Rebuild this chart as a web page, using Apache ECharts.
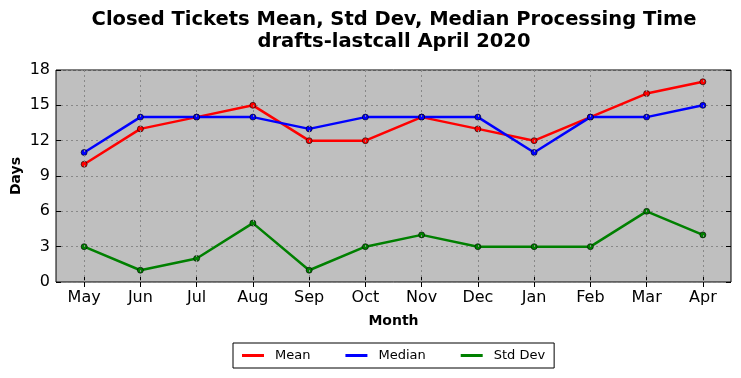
<!DOCTYPE html>
<html><head><meta charset="utf-8">
<script src="https://cdn.jsdelivr.net/npm/echarts@6/dist/echarts.min.js"></script>
<style>html,body{margin:0;padding:0;background:#fff}#c{width:741px;height:378px}</style>
</head><body><div id="c"></div>
<script>
const months = ['May','Jun','Jul','Aug','Sep','Oct','Nov','Dec','Jan','Feb','Mar','Apr'];
const meanVals = [10,13,14,15,12,12,14,13,12,14,16,17];
const medianVals = [11,14,14,14,13,14,14,14,11,14,14,15];
const stdVals = [3,1,2,5,1,3,4,3,3,3,6,4];
const yTicks = [0,3,6,9,12,15,18];

const font = 'DejaVu Sans';
const chart = echarts.init(document.getElementById('c'), null, {renderer:'canvas'});
function ser(name, data, color){
  return {name, type:'line', data, xAxisIndex:0, yAxisIndex:0,
    symbol:'circle', symbolSize:6,
    lineStyle:{color, width:2.5},
    itemStyle:{color, borderColor:'#000', borderWidth:0.6},
    emphasis:{disabled:true}, animation:false, z:3};
}
const gridSeries = {type:'line', data:[], silent:true, xAxisIndex:0, yAxisIndex:0, z:1,
  markLine:{silent:true, symbol:['none','none'], label:{show:false}, animation:false,
    lineStyle:{color:'#888', type:[2,3], width:1},
    data: months.map(m => ({xAxis:m}))}};
chart.setOption({
  backgroundColor:'#fff',
  animation:false,
  title:{text:'Closed Tickets Mean, Std Dev, Median Processing Time\ndrafts-lastcall April 2020',
    left:389, textAlign:'center', top:4,
    textStyle:{fontFamily:font, fontSize:19.5, fontWeight:'bold', color:'#000', lineHeight:22}},
  grid:{left:56, right:10, top:70, bottom:96, backgroundColor:'#bfbfbf', show:true, borderColor:'#000', borderWidth:1, outerBoundsMode:'none', containLabel:false},
  legend:{left:233, top:343, orient:'horizontal', itemGap:35, itemWidth:22, itemHeight:3,
    padding:[6,9,6,9], borderColor:'#000', borderWidth:1, borderRadius:0,
    textStyle:{fontFamily:font, fontSize:13, color:'#000', padding:[0,0,0,6]},
    data:[{name:'Mean', icon:'rect', itemStyle:{color:'#ff0000', borderWidth:0}},
          {name:'Median', icon:'rect', itemStyle:{color:'#0000ff', borderWidth:0}},
          {name:'Std Dev', icon:'rect', itemStyle:{color:'#008000', borderWidth:0}}]},
  xAxis:[{type:'category', data:months, boundaryGap:true, position:'bottom',
    name:'Month', nameLocation:'middle', nameGap:32, nameMoveOverlap:false,
    nameTextStyle:{fontFamily:font, fontSize:14, fontWeight:'bold', color:'#000'},
    axisLine:{show:false}, axisTick:{show:true, inside:true, alignWithLabel:true, length:5, lineStyle:{color:'#000'}},
    axisLabel:{fontFamily:font, fontSize:16, color:'#000', margin:8},
    splitLine:{show:false}},
   {type:'category', data:months, boundaryGap:true, position:'top', gridIndex:0,
    axisLine:{show:false}, axisLabel:{show:false}, splitLine:{show:false},
    axisTick:{show:true, inside:true, alignWithLabel:true, length:5, lineStyle:{color:'#000'}}}],
  yAxis:[{type:'value', min:yTicks[0], max:yTicks[yTicks.length-1], interval:3, position:'left',
    name:'Days', nameLocation:'middle', nameGap:33, nameMoveOverlap:false,
    nameTextStyle:{fontFamily:font, fontSize:14, fontWeight:'bold', color:'#000'},
    axisLine:{show:false}, axisTick:{show:true, inside:true, length:5, lineStyle:{color:'#000'}},
    axisLabel:{fontFamily:font, fontSize:16, color:'#000', margin:6},
    splitLine:{show:true, lineStyle:{color:'#888', type:[2,3], width:1}}},
   {type:'value', min:0, max:18, interval:3, position:'right',
    axisLine:{show:false}, axisLabel:{show:false}, splitLine:{show:false},
    axisTick:{show:true, inside:true, length:5, lineStyle:{color:'#000'}}}],
  series:[gridSeries, ser('Mean', meanVals, '#ff0000'), ser('Median', medianVals, '#0000ff'), ser('Std Dev', stdVals, '#008000')]
});
</script></body></html>
